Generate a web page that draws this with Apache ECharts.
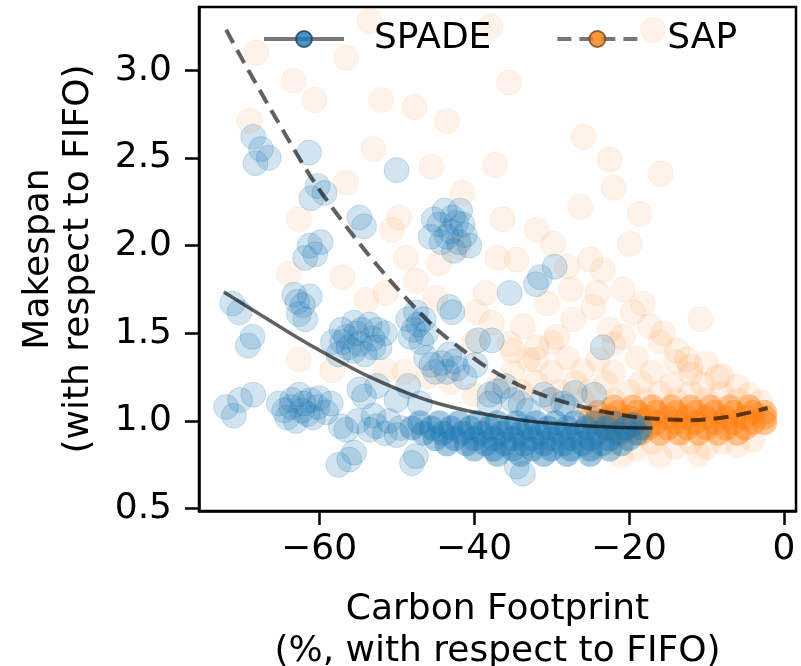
<!DOCTYPE html>
<html><head><meta charset="utf-8">
<script src="https://cdn.jsdelivr.net/npm/echarts@6/dist/echarts.min.js"></script>
<style>html,body{margin:0;padding:0;background:#fff}#c{width:801px;height:666px}</style>
</head><body><div id="c"></div>
<script>
const xTicks = [-60, -40, -20, 0];
const yTicks = [0.5, 1.0, 1.5, 2.0, 2.5, 3.0];

// fitted trend curves
const spadeFit = [[-72.3,1.735],[-67,1.59],[-62.6,1.47],[-58,1.355],[-53.9,1.26],[-49.5,1.175],[-45.4,1.11],[-41,1.06],[-36.8,1.025],[-32,0.995],[-27.2,0.977],[-22,0.965],[-17,0.96]];
const sapFit = [[-72,3.23],[-69.9,3.06],[-65.5,2.72],[-60.9,2.38],[-56,2.08],[-51.4,1.83],[-47.5,1.64],[-44.5,1.51],[-41,1.39],[-38.1,1.30],[-33.5,1.19],[-29.3,1.12],[-24,1.06],[-18.6,1.02],[-12.1,1.005],[-7,1.025],[-2.1,1.074]];

// SPADE scattered runs
const spadePoints = [
[-68.5,2.62],[-67.5,2.55],[-66.5,2.50],[-68.2,2.47],[-61.3,2.53],
[-60.2,2.34],[-59.3,2.30],[-61.0,2.27],[-50.0,2.43],
[-54.8,2.16],[-54.2,2.11],
[-61.2,2.00],[-60.5,1.95],[-59.8,2.02],[-61.8,1.93],
[-45.2,2.15],[-43.8,2.20],[-42.3,2.13],[-41.2,2.06],[-44.2,2.02],[-40.6,2.00],[-42.6,1.97],[-45.6,2.05],[-43.0,2.08],[-41.8,2.20],
[-44.5,2.12],[-42.8,2.16],[-41.5,2.12],[-43.5,2.05],[-42.0,2.02],
[-63.2,1.72],[-62.1,1.66],[-61.2,1.71],[-62.6,1.61],[-61.8,1.58],[-62.8,1.68],
[-71.2,1.67],[-70.3,1.62],[-68.6,1.48],[-69.2,1.43],
[-57.1,1.52],[-55.2,1.50],[-53.1,1.47],[-52.2,1.42],[-56.2,1.42],[-54.1,1.38],[-58.2,1.45],[-55.5,1.56],[-53.5,1.55],[-51.5,1.50],[-57.5,1.38],[-54.8,1.44],
[-56.5,1.48],[-54.5,1.52],[-53.0,1.42],[-55.5,1.40],[-52.5,1.52],[-57.0,1.45],
[-48.5,1.58],[-47.2,1.55],[-46.2,1.50],[-48.2,1.48],[-47.5,1.62],[-46.8,1.45],[-47.8,1.52],[-46.5,1.58],
[-43.2,1.65],[-42.8,1.62],
[-46.2,1.36],[-44.2,1.33],[-42.2,1.30],[-41.2,1.25],[-45.0,1.28],[-43.2,1.38],[-39.8,1.32],[-43.5,1.28],[-45.5,1.32],[-42.5,1.34],
[-37.7,1.46],[-39.5,1.46],
[-35.4,1.73],[-31.5,1.82],[-29.6,1.88],[-32.0,1.78],
[-23.4,1.42],[-24.5,1.15],
[-65.2,1.10],[-63.6,1.08],[-62.2,1.06],[-61.1,1.12],[-60.2,1.08],[-64.1,1.02],[-62.6,1.15],[-59.1,1.05],[-63.0,1.00],[-60.8,1.02],[-58.5,1.10],
[-63.5,1.12],[-61.5,1.04],[-64.5,1.06],[-62.0,1.10],[-60.0,1.13],
[-72.0,1.08],[-70.2,1.12],[-68.5,1.15],[-71.0,1.03],
[-54.8,1.18],[-54.2,1.14],[-52.5,1.20],
[-57.2,0.97],[-56.5,0.95],[-52.6,0.97],[-51.5,0.93],
[-55.0,1.00],[-53.5,0.95],[-51.0,1.00],[-49.5,0.96],[-53.0,1.03],[-50.0,0.92],
[-56.1,0.78],[-57.5,0.75],[-55.5,0.82],
[-48.0,0.76],[-47.5,0.80],
[-33.7,0.70],[-34.5,0.74],
[-50.0,1.12],[-48.5,1.20],[-47.0,1.10],[-38.0,1.15],[-36.0,1.20],[-34.0,1.10],[-30.0,1.12],[-28.0,1.08],
[-38.0,1.10],[-35.0,1.12],[-33.0,1.06],[-37.0,1.17],[-31.0,1.15],[-28.5,1.10],[-27.0,1.16]
];
// SPADE densely packed runs
const spadeDense = [
[-47,0.99],[-44.5,0.99],[-42,0.99],[-39.5,0.99],[-37,0.99],[-34.5,0.99],[-32,0.99],[-29.5,0.99],[-27,0.99],[-24.5,0.99],[-22,0.99],[-19.5,0.98],
[-48,0.96],[-45.5,0.96],[-43,0.96],[-40.5,0.96],[-38,0.96],[-35.5,0.96],[-33,0.96],[-30.5,0.96],[-28,0.96],[-25.5,0.96],[-23,0.96],[-20.5,0.96],[-18.5,0.96],
[-46.5,0.93],[-44,0.93],[-41.5,0.93],[-39,0.93],[-36.5,0.93],[-34,0.93],[-31.5,0.93],[-29,0.93],[-26.5,0.93],[-24,0.93],[-21.5,0.93],[-19,0.93],
[-45,0.90],[-42.5,0.90],[-40,0.90],[-37.5,0.90],[-35,0.90],[-32.5,0.90],[-30,0.90],[-27.5,0.90],[-25,0.90],[-22.5,0.90],[-20,0.90],
[-43.5,0.87],[-41,0.87],[-38.5,0.87],[-36,0.87],[-33.5,0.87],[-31,0.87],[-28.5,0.87],[-26,0.87],[-23.5,0.87],[-21,0.87],
[-40,0.84],[-37.5,0.84],[-35,0.84],[-32.5,0.84],[-30,0.84],[-27.5,0.84],[-25,0.84],[-22.5,0.84],
[-37,0.81],[-34,0.81],[-31,0.81],[-28,0.81],[-25,0.81]
];

// SAP scattered runs
const sapPoints = [
[-68.1,3.10],[-56.5,3.07],[-53.5,3.28],[-63.3,2.94],[-60.6,2.83],[-52.0,2.83],[-47.7,2.79],[-43.5,2.71],[-35.5,2.93],[-25.9,2.62],[-22.5,2.49],[-15.9,2.41],[-37.3,2.46],[-41.5,2.30],[-53.0,2.55],[-16.9,3.23],[-37.9,3.25],[-69.0,2.71],[-56.5,2.36],
[-22.0,2.33],[-26.3,2.22],[-18.6,2.18],[-19.9,2.01],[-36.3,2.15],[-31.9,2.09],[-29.8,2.01],[-23.4,1.86],[-20.8,1.75],[-24.6,1.65],[-18.2,1.67],[-29.3,1.48],[-20.8,1.48],[-15.6,1.50],[-8.6,1.25],[-33.7,1.54],
[-50.6,2.09],[-63.9,1.84],[-57.0,1.82],[-53.9,1.69],[-47.5,1.80],[-44.5,1.90],[-39.7,1.62],[-62.6,1.35],[-58.3,1.29],[-51.4,1.29],[-49.0,1.28],[-38.5,1.73],[-49.7,2.16],[-62.6,2.15],
[-10.8,1.58],[-12.5,1.35],[-27.5,1.75],[-45.5,2.45],
[-48.8,1.93],[-41.9,1.99],[-37.7,1.56],[-51.4,1.73],[-45.0,1.70],[-35.0,1.40],[-40.0,1.45],[-32.0,1.35],
[-37.0,1.93],[-34.5,1.92],[-28.0,1.88],[-25.0,1.92],[-24.1,1.73],[-19.5,1.62],[-30.6,1.67],[-27.2,1.58],[-22.5,1.52],[-17.3,1.54],[-13.8,1.40],[-12.1,1.31],[-31.9,1.42],[-35.4,1.44]
];
// SAP cloud around the core
const sapHalo = [
[-33,1.35],[-28,1.36],[-24,1.35],[-19,1.36],[-14,1.34],[-10,1.33],
[-35,1.28],[-30,1.28],[-26,1.29],[-22,1.28],[-17,1.28],[-12,1.27],[-8,1.26],
[-32,1.22],[-27,1.22],[-23,1.22],[-18.5,1.22],[-14.5,1.21],[-10.5,1.21],[-6,1.20],
[-34,1.17],[-29,1.17],[-25,1.17],[-20,1.17],[-16,1.16],[-12,1.16],[-8,1.16],[-4.5,1.15],
[-30,1.12],[-26,1.12],[-22,1.12],[-18,1.12],[-14,1.12],[-10,1.12],[-6,1.12],[-3,1.11],
[-26,0.88],[-22,0.88],[-17,0.88],[-12,0.88],[-8,0.88],[-4,0.89],
[-24,0.85],[-19,0.84],[-14,0.85],[-10,0.85],[-6,0.86],
[-21,0.80],[-16,0.80],[-11,0.81],
[-30,1.45],[-22,1.44],[-16,1.45],
[-40,1.15],[-37,1.20],[-43,1.22],[-46,1.25]
];
// SAP densely packed runs
const sapDense = [
[-22,1.08],[-19.5,1.08],[-17,1.08],[-14.5,1.08],[-12,1.08],[-9.5,1.08],[-7,1.08],[-4.5,1.08],
[-24,1.05],[-21.5,1.05],[-19,1.05],[-16.5,1.05],[-14,1.05],[-11.5,1.05],[-9,1.05],[-6.5,1.05],[-4,1.05],[-2.5,1.05],
[-25,1.02],[-22.5,1.02],[-20,1.02],[-17.5,1.02],[-15,1.02],[-12.5,1.02],[-10,1.02],[-7.5,1.02],[-5,1.02],[-2.5,1.02],
[-24,0.99],[-21.5,0.99],[-19,0.99],[-16.5,0.99],[-14,0.99],[-11.5,0.99],[-9,0.99],[-6.5,0.99],[-4,0.99],[-2.5,0.99],
[-22.5,0.96],[-20,0.96],[-17.5,0.96],[-15,0.96],[-12.5,0.96],[-10,0.96],[-7.5,0.96],[-5,0.96],
[-21,0.93],[-18.5,0.93],[-16,0.93],[-13.5,0.93],[-11,0.93],[-8.5,0.93],[-6,0.93]
];

const BLUE = '#1f77b4', ORANGE = '#ff7f0e';
const FONT = 'DejaVu Sans';
const fmtX = v => (v < 0 ? '\u2212' + Math.abs(v) : String(v));

function scatter(name, data, color, opacity, z, bw) {
  return {
    type: 'scatter', name: name, data: data, symbol: 'circle', symbolSize: 25, z: z,
    silent: true, large: false,
    itemStyle: { color: color, borderColor: color, borderWidth: bw, opacity: opacity },
    emphasis: { disabled: true }
  };
}

const chart = echarts.init(document.getElementById('c'), null, { renderer: 'canvas' });
chart.setOption({
  animation: false,
  backgroundColor: '#fff',
  grid: { left: 199, right: 5, top: 7, bottom: 155, outerBoundsMode: 'none', containLabel: false,
          show: true, borderColor: '#000', borderWidth: 2.5, backgroundColor: 'transparent' },
  legend: {
    data: [
      { name: 'SPADE', itemStyle: { color: BLUE, borderColor: '#1d4060', borderWidth: 2, opacity: 0.8 }, lineStyle: { color: '#777', width: 4, type: 'solid', opacity: 1 } },
      { name: 'SAP', itemStyle: { color: ORANGE, borderColor: '#6e4a28', borderWidth: 2, opacity: 0.8 }, lineStyle: { color: '#777', width: 4, type: [14, 8], opacity: 1 } }
    ],
    left: 257, top: 16, itemWidth: 80, itemHeight: 20, itemGap: 64,
    selectedMode: false,
    textStyle: { fontFamily: FONT, fontSize: 36, color: '#000', padding: [0, 0, 0, 25] }
  },
  xAxis: {
    type: 'value', min: -75.5, max: 1.55,
    name: 'Carbon Footprint\n(%, with respect to FIFO)', nameLocation: 'middle', nameGap: 78,
    nameTextStyle: { fontFamily: FONT, fontSize: 36, color: '#000', lineHeight: 42 },
    axisLine: { show: true, onZero: false, lineStyle: { color: '#000', width: 2.5 } },
    axisTick: { show: true, length: 14, lineStyle: { color: '#000', width: 2.5 }, customValues: xTicks },
    axisLabel: { customValues: xTicks, formatter: fmtX, fontFamily: FONT, fontSize: 36, color: '#000', margin: 21 },
    splitLine: { show: false }
  },
  yAxis: {
    type: 'value', min: 0.487, max: 3.36,
    name: 'Makespan\n(with respect to FIFO)', nameLocation: 'middle', nameGap: 100, nameRotate: 90,
    nameTextStyle: { fontFamily: FONT, fontSize: 36, color: '#000', lineHeight: 40 },
    axisLine: { show: true, onZero: false, lineStyle: { color: '#000', width: 2.5 } },
    axisTick: { show: true, length: 14, lineStyle: { color: '#000', width: 2.5 }, customValues: yTicks },
    axisLabel: { customValues: yTicks, formatter: v => v.toFixed(1), fontFamily: FONT, fontSize: 36, color: '#000', margin: 27 },
    splitLine: { show: false }
  },
  series: [
    scatter('SAP runs', sapPoints, ORANGE, 0.09, 1, 1),
    scatter('SAP halo', sapHalo, ORANGE, 0.11, 1, 0),
    scatter('SAP dense', sapDense, ORANGE, 0.42, 1, 0),
    scatter('SPADE runs', spadePoints, BLUE, 0.2, 2, 1),
    scatter('SPADE dense', spadeDense, BLUE, 0.4, 2, 0),
    { type: 'line', name: 'SPADE', data: spadeFit, smooth: 0.3, symbol: 'circle', showSymbol: false, z: 5, silent: true,
      itemStyle: { color: BLUE }, lineStyle: { color: 'rgba(0,0,0,0.62)', width: 3.5 } },
    { type: 'line', name: 'SAP', data: sapFit, smooth: 0.3, symbol: 'circle', showSymbol: false, z: 5, silent: true,
      itemStyle: { color: ORANGE }, lineStyle: { color: 'rgba(0,0,0,0.62)', width: 4, type: [15, 8] } }
  ]
});
</script></body></html>
